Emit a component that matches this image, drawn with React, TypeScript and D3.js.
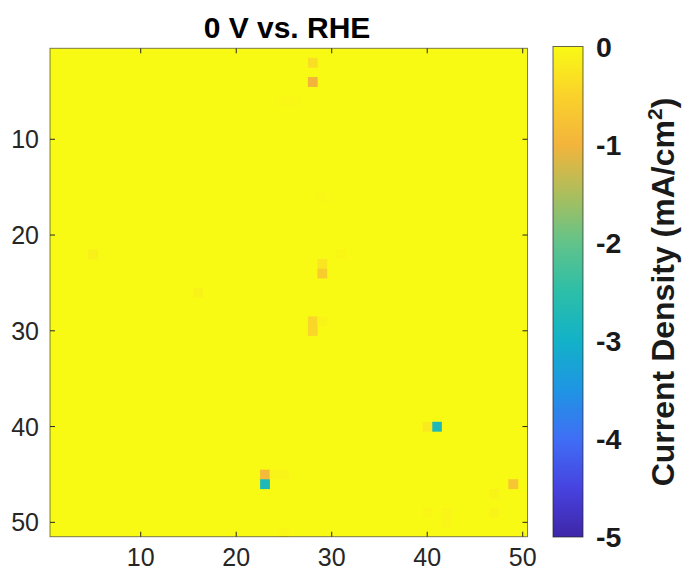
import React from "react";
import * as d3 from "d3";

const ROWS = 51;
const COLS = 50;
const xTicks = [10, 20, 30, 40, 50];
const yTicks = [10, 20, 30, 40, 50];
const cbTicks = [0, -1, -2, -3, -4, -5];
const title = "0 V vs. RHE";

// Non-zero cells: column, row, value (mA/cm^2); all other cells are 0
const cellCols = [28, 28, 25, 26, 29, 5, 31, 29, 29, 16, 28, 28, 29, 41, 40, 23, 23, 24, 25, 49, 47, 47, 40, 42, 42, 25];
const cellRows = [2, 4, 6, 6, 16, 22, 22, 23, 24, 26, 29, 30, 29, 40, 40, 45, 46, 45, 45, 46, 47, 49, 49, 49, 50, 51];
const cellValues = [-0.35, -1.0, -0.04, -0.04, -0.04, -0.12, -0.05, -0.25, -0.6, -0.1, -0.45, -0.45, -0.07, -2.75, -0.2, -0.9, -2.75, -0.07, -0.08, -0.7, -0.07, -0.07, -0.05, -0.06, -0.06, -0.05];

const parulaT = [0, 0.1, 0.2, 0.3, 0.4, 0.5, 0.6, 0.7, 0.8, 0.9, 1];
const parulaC = ["#3e26a8", "#4743e0", "#3f6ef5", "#1f95e3", "#12b2c8", "#2cbea8", "#62c38a", "#adbe5c", "#f3b43c", "#fad22b", "#f9fa14"];

const FONT = "'Liberation Sans', Arial, Helvetica, sans-serif";

export default function App() {
  const W = 686, H = 577;
  const x = d3.scaleLinear().domain([0.5, COLS + 0.5]).range([50, 527.5]);
  const y = d3.scaleLinear().domain([0.5, ROWS + 0.5]).range([48.3, 536.7]);
  const par = d3.scaleLinear<string>().domain(parulaT).range(parulaC).interpolate(d3.interpolateRgb).clamp(true);
  const color = (v: number) => par((v + 5) / 5);
  const cb = d3.scaleLinear().domain([0, -5]).range([46.5, 537]);
  const cbX0 = 553, cbX1 = 583;

  const cells = cellCols.map((c, i) => ({ c, r: cellRows[i], v: cellValues[i] }));
  const gradStops = d3.range(0, 1.0001, 0.02);
  const axisColor = "#262626";
  const tickLen = 5;

  return (
    <svg width={W} height={H} style={{ position: "absolute", left: 0, top: 0, background: "#fff" }} fontFamily={FONT}>
      <defs>
        <linearGradient id="cbgrad" x1="0" y1="1" x2="0" y2="0">
          {gradStops.map((t) => (
            <stop key={t} offset={t} stopColor={par(t)} />
          ))}
        </linearGradient>
      </defs>
      <rect x={x(0.5)} y={y(0.5)} width={x(COLS + 0.5) - x(0.5)} height={y(ROWS + 0.5) - y(0.5)} fill={color(0)} />
      {cells.map((d, i) => (
        <rect key={i} x={x(d.c - 0.5)} y={y(d.r - 0.5)} width={x(d.c + 0.5) - x(d.c - 0.5) + 0.3}
          height={y(d.r + 0.5) - y(d.r - 0.5) + 0.3} fill={color(d.v)} />
      ))}
      <rect x={x(0.5)} y={y(0.5)} width={x(COLS + 0.5) - x(0.5)} height={y(ROWS + 0.5) - y(0.5)}
        fill="none" stroke={axisColor} strokeOpacity={0.6} strokeWidth={1} />
      {xTicks.map((t) => (
        <g key={"x" + t}>
          <line x1={x(t)} x2={x(t)} y1={y(ROWS + 0.5)} y2={y(ROWS + 0.5) - tickLen} stroke={axisColor} />
          <line x1={x(t)} x2={x(t)} y1={y(0.5)} y2={y(0.5) + tickLen} stroke={axisColor} />
          <text x={x(t)} y={566} textAnchor="middle" fontSize={25} fill="#262626">{t}</text>
        </g>
      ))}
      {yTicks.map((t) => (
        <g key={"y" + t}>
          <line x1={x(0.5)} x2={x(0.5) + tickLen} y1={y(t)} y2={y(t)} stroke={axisColor} />
          <line x1={x(COLS + 0.5)} x2={x(COLS + 0.5) - tickLen} y1={y(t)} y2={y(t)} stroke={axisColor} />
          <text x={39} y={y(t)} dy="0.36em" textAnchor="end" fontSize={25} fill="#262626">{t}</text>
        </g>
      ))}
      <text x={287} y={38} textAnchor="middle" fontSize={30} fontWeight="bold" fill="#000">{title}</text>
      <rect x={cbX0} y={cb(0)} width={cbX1 - cbX0} height={cb(-5) - cb(0)} fill="url(#cbgrad)" stroke={axisColor} strokeOpacity={0.7} />
      {cbTicks.map((t) => (
        <g key={"c" + t}>
          <text x={596} y={cb(t)} dy="0.36em" fontSize={28.5} fontWeight="bold" fill="#1a1a1a">{t}</text>
        </g>
      ))}
      <text transform={`translate(674,292) rotate(-90)`} textAnchor="middle" fontSize={32} fontWeight="bold" fill="#1a1a1a">
        Current Density (mA/cm<tspan dy="-12" fontSize={21}>2</tspan><tspan dy="12">)</tspan>
      </text>
    </svg>
  );
}
